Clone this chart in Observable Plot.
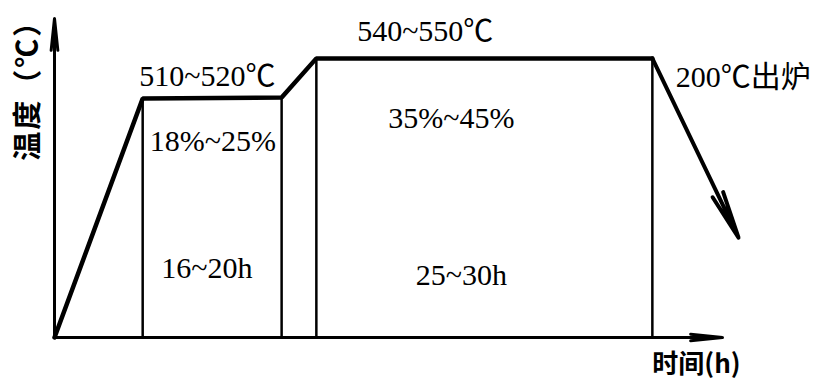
<!DOCTYPE html>
<html>
<head>
<meta charset="utf-8">
<script src="https://cdn.jsdelivr.net/npm/d3@7"></script>
<script src="https://cdn.jsdelivr.net/npm/@observablehq/plot@0.6"></script>
<style>
  html, body { margin: 0; padding: 0; background: #fff; }
  #chart svg { display: block; }
</style>
</head>
<body>
<div id="chart"></div>
<script>
// Two-stage ageing schedule, drawn as a schematic (time and level in diagram units)
const stageTime  = [0, 13.2, 34.0, 39.2, 89.5];   // corners of the heating profile
const stageLevel = [0, 74.9, 75.2, 87.5, 87.5];
const coolTime  = [89.5, 102.4];                   // furnace cooling, ends in an arrow
const coolLevel = [87.5, 31.3];

const holdEdges = [1, 2, 3, 4];                    // corners that drop a guide line to the time axis

const tempLabels  = ["510~520℃", "540~550℃"];
const ratioLabels = ["18%~25%", "35%~45%"];
const holdLabels  = ["16~20h", "25~30h"];
const tapLabel    = "200℃出炉";
const xTitle = "时间(h)";
const yTitle = "温度（℃）";

const profile = stageTime.map((t, i) => ({t, level: stageLevel[i]}));
const serif = "'Liberation Serif', 'Noto Sans CJK SC', serif";
const hei = "'Noto Sans CJK SC', sans-serif";

const chart = Plot.plot({
  width: 813,
  height: 381,
  marginLeft: 54,
  marginRight: 91,
  marginTop: 18,
  marginBottom: 44,
  x: {domain: [0, 100], axis: null},
  y: {domain: [0, 100], axis: null},
  style: {background: "#fff", overflow: "visible"},
  marks: [
    // axes with narrow arrowheads
    Plot.arrow([{}], {x1: 0, y1: 0, x2: 0, y2: 100, stroke: "#000", strokeWidth: 3, headLength: 16, headAngle: 12}),
    Plot.arrow([{}], {x1: 0, y1: 0, x2: 100, y2: 0, stroke: "#000", strokeWidth: 3, headLength: 16, headAngle: 12}),
    // guide lines from each hold corner down to the time axis
    Plot.ruleX(holdEdges, {x: i => stageTime[i], y1: 0, y2: i => stageLevel[i], stroke: "#000", strokeWidth: 2.5}),
    // heating profile
    Plot.line(profile, {x: "t", y: "level", stroke: "#000", strokeWidth: 4.5, strokeLinejoin: "miter"}),
    // furnace cooling
    Plot.arrow([{}], {x1: coolTime[0], y1: coolLevel[0], x2: coolTime[1], y2: coolLevel[1],
      stroke: "#000", strokeWidth: 4, headLength: 18, headAngle: 14}),
    // stage temperatures
    Plot.text([0], {x: 22.9, y: 81.8, text: () => tempLabels[0], fontFamily: serif, fontSize: 30, fill: "#000"}),
    Plot.text([0], {x: 55.5, y: 95.9, text: () => tempLabels[1], fontFamily: serif, fontSize: 30, fill: "#000"}),
    Plot.text([0], {x: 93.0, y: 81.5, text: () => tapLabel, textAnchor: "start", fontFamily: serif, fontSize: 30, fill: "#000"}),
    // hold ratios
    Plot.text([0], {x: 23.7, y: 61.4, text: () => ratioLabels[0], fontFamily: serif, fontSize: 30, fill: "#000"}),
    Plot.text([0], {x: 59.4, y: 68.7, text: () => ratioLabels[1], fontFamily: serif, fontSize: 30, fill: "#000"}),
    // hold durations
    Plot.text([0], {x: 22.8, y: 21.6, text: () => holdLabels[0], fontFamily: serif, fontSize: 30, fill: "#000"}),
    Plot.text([0], {x: 60.9, y: 19.4, text: () => holdLabels[1], fontFamily: serif, fontSize: 30, fill: "#000"}),
    // axis titles
    Plot.text([0], {x: 96.1, y: -8.6, text: () => xTitle, fontFamily: hei, fontWeight: "bold", fontSize: 26, fill: "#000"}),
    Plot.text([0], {x: -3.9, y: 79.7, text: () => yTitle, rotate: -90, fontFamily: hei, fontWeight: "bold", fontSize: 29, fill: "#000", className: "ytitle"})
  ]
});

// spread the vertical title along the upper part of the temperature axis
d3.select(chart).selectAll(".ytitle text").attr("letter-spacing", "2px");

document.getElementById("chart").append(chart);
</script>
</body>
</html>
